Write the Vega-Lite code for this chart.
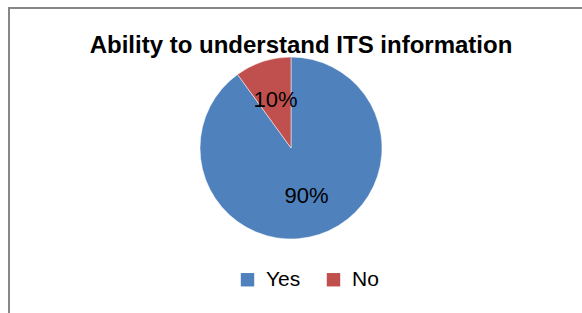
{
  "$schema": "https://vega.github.io/schema/vega-lite/v6.json",
  "autosize": "none",
  "padding": {"left": 9, "top": 8, "right": 0, "bottom": 0},
  "width": 592,
  "height": 320,
  "background": "white",
  "view": {"stroke": "#878787", "strokeWidth": 2},
  "config": {
    "view": {"stroke": "#878787", "strokeWidth": 2},
    "font": "Liberation Sans"
  },
  "title": {
    "text": "Ability to understand ITS information",
    "fontSize": 24,
    "fontWeight": "bold",
    "font": "Liberation Sans",
    "color": "#000000",
    "anchor": "middle",
    "baseline": "bottom",
    "offset": -74,
    "dx": -4
  },
  "data": {
    "values": [
      {"category": "Yes", "value": 90, "label": "90%"},
      {"category": "No", "value": 10, "label": "10%"}
    ]
  },
  "encoding": {
    "theta": {"field": "value", "type": "quantitative", "stack": true},
    "order": {"field": "category", "sort": "descending"}
  },
  "layer": [
    {
      "mark": {"type": "arc", "outerRadius": 91, "x": 282, "y": 140, "stroke": "white", "strokeWidth": 0.5},
      "encoding": {
        "color": {
          "field": "category",
          "type": "nominal",
          "scale": {"domain": ["Yes", "No"], "range": ["#4F81BD", "#C0504D"]},
          "legend": {
            "title": null,
            "orient": "none",
            "direction": "horizontal",
            "legendX": 228,
            "legendY": 261,
            "symbolType": "square",
            "symbolSize": 180,
            "symbolStrokeWidth": 0,
            "labelFontSize": 21,
            "labelColor": "#000000",
            "labelFont": "Liberation Sans",
            "columnPadding": 22,
            "labelOffset": 8
          }
        }
      }
    },
    {
      "mark": {"type": "text", "radius": 50, "x": 282, "y": 140, "fontSize": 22, "color": "#000000", "font": "Liberation Sans"},
      "encoding": {
        "text": {"field": "label", "type": "nominal"}
      }
    }
  ]
}
